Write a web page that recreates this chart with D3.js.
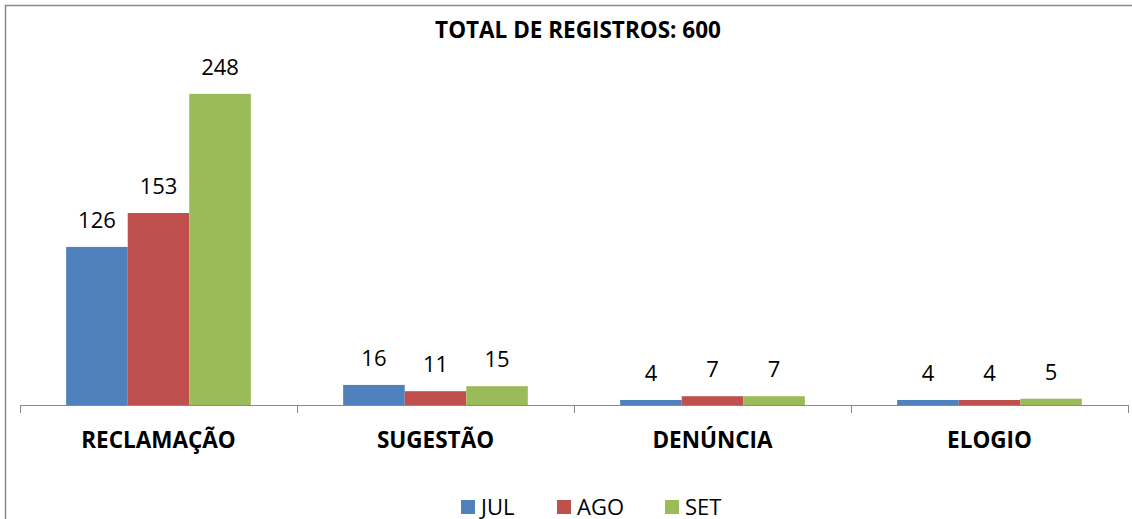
<!DOCTYPE html>
<html>
<head>
<meta charset="utf-8">
<script src="https://cdn.jsdelivr.net/npm/d3@7"></script>
<style type="text/css">
    body { margin: 0; background: #fff; overflow: hidden; }
    svg { display: block; font-family: "Open Sans", sans-serif; }
    .axis path, .axis line { fill: none; stroke: #898989; shape-rendering: crispEdges; }
    .cat { font-weight: bold; font-size: 22.5px; fill: #000; }
    .val { font-size: 22px; fill: #000; }
    .legend text { font-size: 22px; fill: #000; }
</style>
</head>
<body>
<script>
// chart data
var categories = ["RECLAMAÇÃO", "SUGESTÃO", "DENÚNCIA", "ELOGIO"];
var months = ["JUL", "AGO", "SET"];
var julValues = [126, 16, 4, 4];
var agoValues = [153, 11, 7, 4];
var setValues = [248, 15, 7, 5];
var colors = ["#4F81BD", "#C0504D", "#9BBB59"];
var title = "TOTAL DE REGISTROS: 600";

var seriesValues = [julValues, agoValues, setValues];

var width = 1132, height = 519;
var plot = {left: 20, right: 1128, top: 28.6, bottom: 405};

var svg = d3.select("body").append("svg")
    .attr("width", width)
    .attr("height", height);

// chart border (only left/top show inside the picture)
svg.append("rect")
    .attr("x", 5.5).attr("y", 5.5)
    .attr("width", 1150).attr("height", 540)
    .attr("fill", "none")
    .attr("stroke", "#8a8a8a")
    .attr("stroke-width", 1.5);

var x0 = d3.scaleBand()
    .domain(categories)
    .range([plot.left, plot.right])
    .padding(0);

var x1 = d3.scaleBand()
    .domain(months)
    .range([x0.bandwidth() / 6, x0.bandwidth() * 5 / 6])
    .padding(0);

var yScale = d3.scaleLinear()
    .domain([0, 300])
    .range([plot.bottom, plot.top]);

// build rows for the bars
var rows = [];
categories.forEach(function(c, i) {
    months.forEach(function(m, j) {
        rows.push({cat: c, month: m, value: seriesValues[j][i], color: colors[j]});
    });
});

svg.selectAll("rect.bar")
    .data(rows)
    .enter().append("rect")
    .attr("class", "bar")
    .attr("x", function(d) { return x0(d.cat) + x1(d.month); })
    .attr("width", x1.bandwidth())
    .attr("y", function(d) { return yScale(d.value); })
    .attr("height", function(d) { return plot.bottom - yScale(d.value); })
    .attr("fill", function(d) { return d.color; });

svg.selectAll("text.val")
    .data(rows)
    .enter().append("text")
    .attr("class", "val")
    .attr("text-anchor", "middle")
    .attr("x", function(d) { return x0(d.cat) + x1(d.month) + x1.bandwidth() / 2; })
    .attr("y", function(d) { return yScale(d.value) - 19; })
    .text(function(d) { return d.value; });

// x axis with ticks between categories
var axis = svg.append("g").attr("class", "axis");
axis.append("path")
    .attr("d", "M" + plot.left + "," + (plot.bottom + 0.5) + "H" + plot.right);
var edges = categories.map(function(c) { return x0(c); }).concat([plot.right]);
axis.selectAll("line")
    .data(edges)
    .enter().append("line")
    .attr("x1", function(d) { return Math.round(d) + 0.5; })
    .attr("x2", function(d) { return Math.round(d) + 0.5; })
    .attr("y1", plot.bottom)
    .attr("y2", plot.bottom + 8);

svg.selectAll("text.cat")
    .data(categories)
    .enter().append("text")
    .attr("class", "cat")
    .attr("text-anchor", "middle")
    .attr("x", function(d) { return x0(d) + x0.bandwidth() / 2; })
    .attr("y", 448)
    .text(function(d) { return d; });

// title
svg.append("text")
    .attr("x", 578)
    .attr("y", 37.5)
    .attr("text-anchor", "middle")
    .style("font-weight", "bold")
    .style("font-size", "22.5px")
    .text(title);

// legend
var legendX = [461, 557, 665];
var legend = svg.selectAll("g.legend")
    .data(months)
    .enter().append("g")
    .attr("class", "legend")
    .attr("transform", function(d, i) { return "translate(" + legendX[i] + ",500)"; });

legend.append("rect")
    .attr("width", 14)
    .attr("height", 14)
    .attr("fill", function(d, i) { return colors[i]; });

legend.append("text")
    .attr("x", 20)
    .attr("y", 14.5)
    .text(function(d) { return d; });
</script>
</body>
</html>
